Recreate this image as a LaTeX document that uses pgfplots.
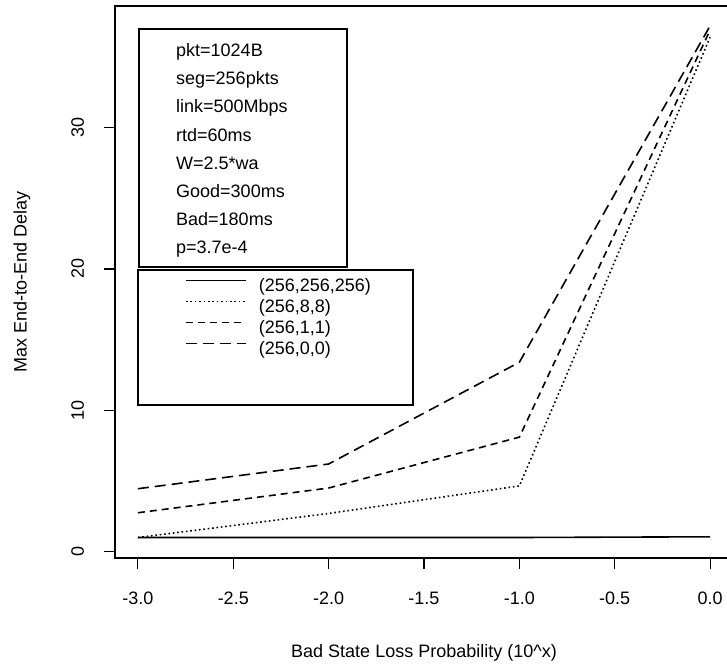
\documentclass[border=0pt]{standalone}
\usepackage{fontspec}
\setmainfont{Liberation Sans}
\usepackage{pgfplots}
\pgfplotsset{compat=1.18}
\begin{document}
\begin{tikzpicture}
\begin{axis}[
    scale only axis,
    width=618bp, height=552bp,
    xmin=-3.12, xmax=0.12,
    ymin=-0.45, ymax=38.6,
    axis line style={line width=1.2bp},
    tick pos=left, tick align=outside,
    major tick length=11bp,
    every tick/.style={black, line width=1.2bp},
    xtick={-3,-2.5,-2,-1.5,-1,-0.5,0},
    xticklabels={-3.0,-2.5,-2.0,-1.5,-1.0,-0.5,0.0},
    ytick={0,10,20,30},
    yticklabels={0,10,20,30},
    ticklabel style={font=\fontsize{18bp}{21bp}\selectfont, inner sep=0pt, text height=13bp, text depth=0pt},
    xticklabel style={anchor=north},
    yticklabel style={rotate=90, anchor=south},
    xticklabel shift=22bp,
    yticklabel shift=20bp,
    xlabel={Bad State Loss Probability (10\textasciicircum x)},
    ylabel={Max End-to-End Delay},
    every axis x label/.style={at={(axis description cs:0.5,-0.1721)}, anchor=center,
        font=\fontsize{18bp}{21bp}\selectfont},
    every axis y label/.style={at={(axis description cs:-0.1505,0.5)}, anchor=center, rotate=90,
        font=\fontsize{18bp}{21bp}\selectfont},
    legend style={draw=none, fill=none, at={(0.1084,0.51)}, anchor=north west,
        font=\fontsize{18bp}{21bp}\selectfont, row sep=4bp, column sep=12bp,
        nodes={inner sep=0pt, text height=13bp, text depth=4bp}, cells={anchor=west}},
    legend image code/.code={\draw[#1] (0bp,6.5bp) -- (60bp,6.5bp);},
]
\addplot[black, line width=1.6bp] coordinates {(-3,1.0) (-2,1.0) (-1,1.0) (0,1.05)};
\addlegendentry{(256,256,256)}
\addplot[black, line width=1.6bp, dash pattern=on 1.6bp off 2.8bp] coordinates {(-3,1.0) (-2,2.7) (-1,4.65) (0,36.4)};
\addlegendentry{(256,8,8)}
\addplot[black, line width=1.6bp, dash pattern=on 7bp off 5bp] coordinates {(-3,2.75) (-2,4.5) (-1,8.1) (0,36.9)};
\addlegendentry{(256,1,1)}
\addplot[black, line width=1.6bp, dash pattern=on 11bp off 6bp] coordinates {(-3,4.45) (-2,6.2) (-1,13.4) (0,37.2)};
\addlegendentry{(256,0,0)}
\end{axis}
\draw[line width=1.2bp] (24bp,291bp) rectangle (232bp,529bp);
\draw[line width=1.2bp] (23bp,153bp) rectangle (298bp,288bp);
\begin{scope}[every node/.style={anchor=base west, inner sep=0pt, font=\fontsize{18bp}{21bp}\selectfont}]
\node at (61bp,501.5bp) {pkt=1024B};
\node at (61bp,473.3bp) {seg=256pkts};
\node at (61bp,445.1bp) {link=500Mbps};
\node at (61bp,416.9bp) {rtd=60ms};
\node at (61bp,388.7bp) {W=2.5*wa};
\node at (61bp,360.5bp) {Good=300ms};
\node at (61bp,332.3bp) {Bad=180ms};
\node at (61bp,304.1bp) {p=3.7e-4};
\end{scope}
\pgfresetboundingbox
\path (-115bp,-111bp) rectangle (612bp,558bp);
\end{tikzpicture}
\end{document}
